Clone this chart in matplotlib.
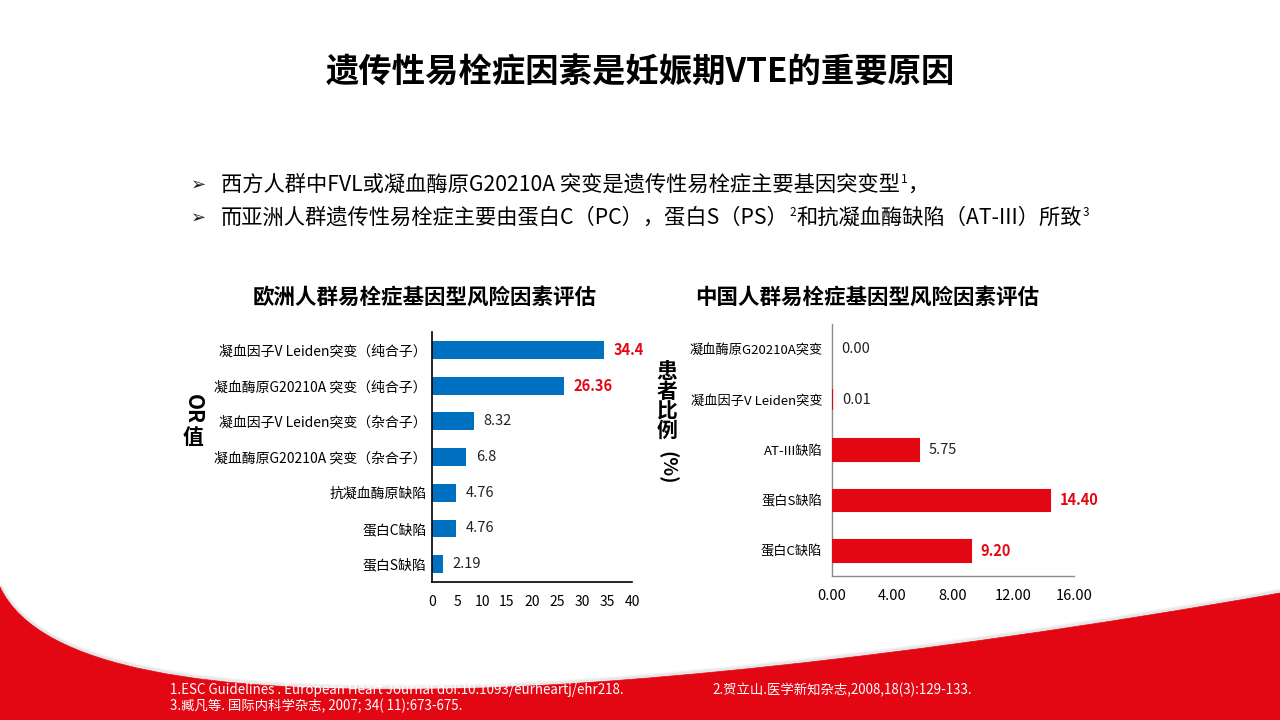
import matplotlib
matplotlib.use("Agg")
import matplotlib.pyplot as plt
from matplotlib.path import Path
from matplotlib.patches import PathPatch

plt.rcParams['font.family'] = ['Noto Sans CJK SC', 'DejaVu Sans']

# ---------------- data ----------------
title = "遗传性易栓症因素是妊娠期VTE的重要原因"
# bullet lines as runs of (text, is_superscript)
bullet1 = [("西方人群中FVL或凝血酶原G20210A 突变是遗传性易栓症主要基因突变型", False),
           ("1", True), ("，", False)]
bullet2 = [("而亚洲人群遗传性易栓症主要由蛋白C（PC），蛋白S（PS）", False), ("2", True),
           ("和抗凝血酶缺陷（AT-III）所致", False), ("3", True)]
bullets = [bullet1, bullet2]

eu_title = "欧洲人群易栓症基因型风险因素评估"
eu_labels = ["凝血因子V Leiden突变（纯合子）", "凝血酶原G20210A 突变（纯合子）",
             "凝血因子V Leiden突变（杂合子）", "凝血酶原G20210A 突变（杂合子）",
             "抗凝血酶原缺陷", "蛋白C缺陷", "蛋白S缺陷"]
eu_values = [34.4, 26.36, 8.32, 6.8, 4.76, 4.76, 2.19]
eu_value_text = ["34.4", "26.36", "8.32", "6.8", "4.76", "4.76", "2.19"]
eu_ticks = [0, 5, 10, 15, 20, 25, 30, 35, 40]

cn_title = "中国人群易栓症基因型风险因素评估"
cn_labels = ["凝血酶原G20210A突变", "凝血因子V Leiden突变", "AT-III缺陷", "蛋白S缺陷", "蛋白C缺陷"]
cn_values = [0.00, 0.01, 5.75, 14.40, 9.20]
cn_ticks = [0, 4, 8, 12, 16]

footnotes = ["1.ESC Guidelines . European Heart Journal doi:10.1093/eurheartj/ehr218.",
             "2.贺立山.医学新知杂志,2008,18(3):129-133.",
             "3.臧凡等. 国际内科学杂志, 2007; 34( 11):673-675."]

RED = "#E30613"
BLUE = "#0070C0"

W, H = 1280, 720
fig = plt.figure(figsize=(12.8, 7.2), dpi=100)
fig.patch.set_facecolor("white")
renderer = fig.canvas.get_renderer()

# background layer in pixel coordinates
bg = fig.add_axes([0, 0, 1, 1])
bg.set_xlim(0, W)
bg.set_ylim(H, 0)
bg.axis("off")

verts = [(0, 587), (40, 672), (220, 692), (430, 689),
         (600, 688), (900, 660), (1280, 593)]
codes = [Path.MOVETO, Path.CURVE4, Path.CURVE4, Path.CURVE4,
         Path.CURVE4, Path.CURVE4, Path.CURVE4]
for off, a in [(3, 0.05), (2, 0.07), (1, 0.10)]:
    sv = [(x, y - off) for x, y in verts]
    bg.add_patch(PathPatch(Path(sv, codes), fill=False, edgecolor="#888888",
                           lw=2.5, alpha=a))
fill_verts = verts + [(1280, 720), (0, 720), (0, 587)]
fill_codes = codes + [Path.LINETO, Path.LINETO, Path.CLOSEPOLY]
bg.add_patch(PathPatch(Path(fill_verts, fill_codes), facecolor=RED, edgecolor=RED, lw=0.5))

# title
bg.text(640, 73, title, fontsize=24, fontweight="bold", ha="center", va="center", color="black")

# bullets with superscripts
for i, runs in enumerate(bullets):
    yc = 185 + 33 * i
    bg.text(199, yc, "➢", fontsize=13, ha="center", va="center", family="DejaVu Sans", color="#1a1a1a")
    x = 221
    base = yc + 6
    for txt, sup in runs:
        if sup:
            t = bg.text(x + 1, base - 8, txt, fontsize=8.5, ha="left", va="baseline", color="black")
        else:
            t = bg.text(x, base, txt, fontsize=15.3, ha="left", va="baseline", color="black")
        ext = t.get_window_extent(renderer=renderer)
        x += ext.width + (1 if sup else 0)

# chart subtitles
bg.text(425, 297, eu_title, fontsize=15.5, fontweight="bold", ha="center", va="center")
bg.text(867, 297, cn_title, fontsize=15.5, fontweight="bold", ha="center", va="center")

# vertical axis labels
bg.text(193, 409, "OR", fontsize=15, fontweight="bold", rotation=-90, ha="center", va="center")
bg.text(193, 437, "值", fontsize=15, fontweight="bold", ha="center", va="center")
for k, ch in enumerate("患者比例"):
    bg.text(667, 372 + 19.5 * k, ch, fontsize=15, fontweight="bold", ha="center", va="center")
bg.text(667, 468, "(%)", fontsize=14, fontweight="bold", rotation=-90, ha="center", va="center")

# footnotes
bg.text(170, 690, footnotes[0], fontsize=9.6, color="white", ha="left", va="center")
bg.text(712, 690, footnotes[1], fontsize=9.6, color="white", ha="left", va="center")
bg.text(170, 706, footnotes[2], fontsize=9.6, color="white", ha="left", va="center")

# ---------------- left chart ----------------
ax1 = fig.add_axes([432 / W, 1 - 582 / H, 200 / W, 250 / H])
ax1.patch.set_alpha(0)
ypos = list(range(len(eu_labels)))
ax1.barh(ypos, eu_values, height=0.5, color=BLUE)
ax1.set_ylim(len(eu_labels) - 0.5, -0.5)
ax1.set_xlim(0, 40)
ax1.set_xticks(eu_ticks)
ax1.set_xticklabels([str(t) for t in eu_ticks], fontsize=10)
ax1.set_yticks(ypos)
ax1.set_yticklabels(eu_labels, fontsize=10)
ax1.tick_params(axis="both", length=0)
ax1.tick_params(axis="y", pad=4)
ax1.tick_params(axis="x", pad=9)
for s in ["top", "right"]:
    ax1.spines[s].set_visible(False)
for s in ["left", "bottom"]:
    ax1.spines[s].set_color("black")
    ax1.spines[s].set_linewidth(1.2)
for y, v, t in zip(ypos, eu_values, eu_value_text):
    hi = v > 20
    ax1.annotate(t, (v, y), xytext=(7, 0), textcoords="offset points",
                 ha="left", va="center", fontsize=10.5,
                 color=RED if hi else "#222222", fontweight="bold" if hi else "normal")

# ---------------- right chart ----------------
ax2 = fig.add_axes([832 / W, 1 - 576 / H, 242 / W, 252 / H])
ax2.patch.set_alpha(0)
ypos2 = list(range(len(cn_labels)))
lws = [1.5 if v > 0 else 0 for v in cn_values]
ax2.barh(ypos2, cn_values, height=0.43, color=RED, edgecolor=RED, linewidth=lws, zorder=3)
ax2.set_ylim(len(cn_labels) - 0.5, -0.5)
ax2.set_xlim(0, 16)
ax2.set_xticks(cn_ticks)
ax2.set_xticklabels([f"{t:.2f}" for t in cn_ticks], fontsize=10.5)
ax2.set_yticks(ypos2)
ax2.set_yticklabels(cn_labels, fontsize=9.5)
ax2.tick_params(axis="both", length=0)
ax2.tick_params(axis="y", pad=7)
ax2.tick_params(axis="x", pad=9)
for s in ["top", "right"]:
    ax2.spines[s].set_visible(False)
for s in ["left", "bottom"]:
    ax2.spines[s].set_color("#8C8C8C")
    ax2.spines[s].set_linewidth(1.0)
for y, v in zip(ypos2, cn_values):
    hi = v > 9
    ax2.annotate(f"{v:.2f}", (v, y), xytext=(7, 0), textcoords="offset points",
                 ha="left", va="center", fontsize=10.5,
                 color=RED if hi else "#222222", fontweight="bold" if hi else "normal")

fig.savefig("out.png", dpi=100)
